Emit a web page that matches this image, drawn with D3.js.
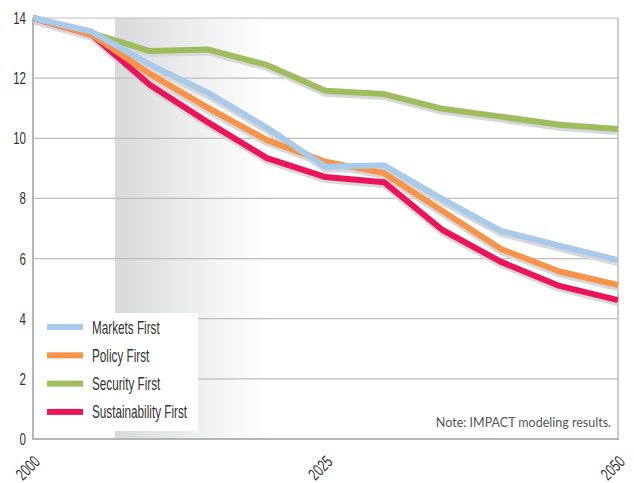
<!DOCTYPE html>
<html><head><meta charset="utf-8">
<script src="https://cdn.jsdelivr.net/npm/d3@7"></script>
<style>
body{margin:0;background:#fff;}
svg{display:block;}
.cond{font-family:"Liberation Sans",Arial,sans-serif;}
</style></head>
<body>
<svg id="chart" width="634" height="483"></svg>
<script>
const years = [2000,2005,2010,2015,2020,2025,2030,2035,2040,2045,2050];
const marketsFirst = [14.0,13.55,12.45,11.5,10.35,9.05,9.1,7.98,6.92,6.43,5.95];
const policyFirst = [14.0,13.45,12.14,11.0,9.94,9.22,8.84,7.58,6.32,5.57,5.12];
const securityFirst = [14.0,13.5,12.9,12.95,12.44,11.58,11.47,10.98,10.72,10.45,10.31];
const sustainabilityFirst = [14.0,13.45,11.77,10.52,9.34,8.71,8.54,6.95,5.89,5.09,4.62];
const seriesNames = ["Markets First","Policy First","Security First","Sustainability First"];
const seriesColors = ["#a9cbea","#f7944a","#9fbd5c","#eb1459"];
const yTicks = [0,2,4,6,8,10,12,14];
const xTickLabels = [2000,2025,2050];
const shadeRange = [2007,2020];
const note = "Note: IMPACT modeling results.";

const seriesValues = [marketsFirst,policyFirst,securityFirst,sustainabilityFirst];
const svg = d3.select("#chart");
const L=33,R=618,T=18,B=439;
const SX=0.68;
const x = d3.scaleLinear().domain([2000,2050]).range([L,R]);
const y = d3.scaleLinear().domain([0,14]).range([B,T]);

// shaded gradient band
const defs = svg.append("defs");
const grad = defs.append("linearGradient").attr("id","shade").attr("x1","0").attr("x2","1").attr("y1","0").attr("y2","0");
grad.append("stop").attr("offset","0").attr("stop-color","#d8d9db");
grad.append("stop").attr("offset","0.55").attr("stop-color","#eeefef");
grad.append("stop").attr("offset","1").attr("stop-color","#ffffff");
svg.append("rect").attr("x",x(shadeRange[0])).attr("y",T)
  .attr("width",x(shadeRange[1])-x(shadeRange[0])).attr("height",B-T).attr("fill","url(#shade)");

// gridlines
svg.append("g").selectAll("line").data(yTicks.filter(d=>d>0)).join("line")
  .attr("x1",L).attr("x2",R).attr("y1",d=>y(d)).attr("y2",d=>y(d))
  .attr("stroke","#bcbdbf").attr("stroke-width",1.2);
// right border
svg.append("line").attr("x1",R).attr("x2",R).attr("y1",T).attr("y2",B).attr("stroke","#bcbdbf").attr("stroke-width",1.5);

// lines
const line = d3.line().x((d,i)=>x(years[i])).y(d=>y(d));
const order = [2,3,1,0];
const g = svg.append("g");
order.forEach(k=>{
  g.append("path").attr("d",line(seriesValues[k])).attr("fill","none")
    .attr("stroke","#d6d7d9").attr("stroke-width",6).attr("stroke-linejoin","round")
    .attr("transform","translate(0,3)");
});
order.forEach(k=>{
  g.append("path").attr("d",line(seriesValues[k])).attr("fill","none")
    .attr("stroke",seriesColors[k]).attr("stroke-width",6).attr("stroke-linejoin","round");
});

// axes lines
svg.append("line").attr("x1",L).attr("x2",L).attr("y1",T).attr("y2",B+1).attr("stroke","#b4b5b7").attr("stroke-width",2);
svg.append("line").attr("x1",L-1).attr("x2",R+1).attr("y1",B).attr("y2",B).attr("stroke","#b4b5b7").attr("stroke-width",2);

// y tick labels
svg.append("g").selectAll("text").data(yTicks).join("text").attr("class","cond")
  .attr("transform",d=>`translate(26,${y(d)+6}) scale(${SX},1)`).attr("text-anchor","end")
  .attr("font-size",17).attr("fill","#333").text(d=>d);

// x tick labels
svg.append("g").selectAll("text").data(xTickLabels).join("text").attr("class","cond")
  .attr("transform",d=>`translate(${x(d)+8},${B+24}) rotate(-45) scale(${SX},1)`)
  .attr("text-anchor","end").attr("font-size",17).attr("fill","#333").text(d=>d);

// legend
const lg = svg.append("g");
lg.append("rect").attr("x",L+1).attr("y",313).attr("width",164).attr("height",118).attr("fill","#fff");
seriesNames.forEach((n,i)=>{
  const yy = 327+i*28.3;
  lg.append("rect").attr("x",47).attr("y",yy-3).attr("width",36).attr("height",6).attr("fill",seriesColors[i]);
  lg.append("text").attr("class","cond").attr("transform",`translate(92,${yy+6.5}) scale(0.67,1)`)
    .attr("font-size",17.5).attr("fill","#333").text(n);
});

// note
svg.append("text").attr("x",611).attr("y",427).attr("text-anchor","end")
  .attr("font-family","Lato, 'DejaVu Sans', sans-serif").attr("font-size",12.5).attr("fill","#555").text(note);
</script>
</body></html>
